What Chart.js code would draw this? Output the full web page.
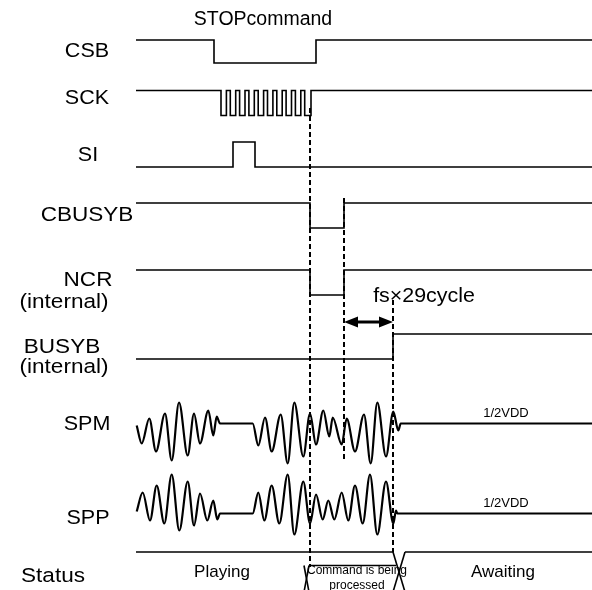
<!DOCTYPE html>
<html>
<head>
<meta charset="utf-8">
<script src="https://cdn.jsdelivr.net/npm/chart.js@4"></script>
<style>
  html, body { margin: 0; padding: 0; background: #fff; }
  #wrap { width: 592px; height: 590px; }
</style>
</head>
<body>
<div id="wrap"><canvas id="timing" width="592" height="590"></canvas></div>
<script>
/* ---------------------------------------------------------------------------
   STOP command timing diagram, drawn as a Chart.js scatter/line chart.
   Time runs along x, each signal lives on its own row along y.
--------------------------------------------------------------------------- */

/* ---- Digital signals: edge times and the level held after each edge ---- */

const csbTimes = [136, 214, 316, 592];
const csbLevels = [1, 0, 1];

const sckTimes = [136, 221, 226.4, 230.3, 235.7, 239.6, 245, 248.9, 254.3, 258.2,
  263.6, 267.5, 272.9, 276.8, 282.2, 286.1, 291.5, 295.4, 300.8, 304.7, 311, 592];
const sckLevels = [1, 0, 1, 0, 1, 0, 1, 0, 1, 0, 1, 0, 1, 0, 1, 0, 1, 0, 1, 0, 1];

const siTimes = [136, 233, 255, 592];
const siLevels = [0, 1, 0];

const cbusybTimes = [136, 310, 344, 592];
const cbusybLevels = [1, 0, 1];

const ncrTimes = [136, 310, 344, 592];
const ncrLevels = [1, 0, 1];

const busybTimes = [136, 393, 592];
const busybLevels = [0, 1];

/* ---- Analog outputs: sample times and amplitude (+ up) ------------------ */

const spmTimes = [136.7, 141.7, 149.3, 156, 165, 171.7, 179, 187.7, 194, 200, 208.3,
  213.3, 216.7, 220, 252.7, 258.3, 265, 271.7, 280.7, 287.7, 294.3, 303.3, 310,
  316, 323.3, 329.3, 332.7, 341.7, 346.7, 355, 364, 370.7, 377.3, 386, 393.3,
  398.3, 400.7, 592];
const spmValues = [-2, -20, 5, -28, 10, -37, 21, -32, 10, -20, 13,
  -12, 7, 0, 0, -22, 6, -28, 9, -40, 21, -33, 10,
  -21, 13, -13, 6, -21, 5, -28, 9, -40, 21, -33, 12,
  -7, 0, 0];

const sppTimes = [136.7, 142.7, 150, 156.7, 164.3, 171.7, 179.3, 187.7, 194, 200,
  207.3, 213.3, 217.3, 220, 252.7, 258.3, 264.3, 271.7, 279.3, 287.7, 294.3,
  303.3, 310, 316, 322.7, 328.3, 334.3, 341.7, 348.3, 355, 362.7, 370, 377.3,
  386, 393.3, 396, 397.3, 592];
const sppValues = [2, 21, -7, 28, -10, 39, -17, 32, -12, 20,
  -7, 13, -6, 0, 0, 21, -7, 28, -10, 39, -21,
  32, -10, 19, -6, 13, -6, 21, -7, 28, -10, 39, -21,
  32, -10, 3, 0, 0];

/* ---- Event markers and status bus -------------------------------------- */

const markerTimes = [310, 344, 393];
const statusTimes = [136, 306.5, 399, 592];
const statusNames = ["Playing", "Command is being\nprocessed", "Awaiting"];
const signalNames = ["CSB", "SCK", "SI", "CBUSYB", "NCR\n(internal)", "BUSYB\n(internal)", "SPM", "SPP", "Status"];

/* ---- Layout (row positions in chart units, y grows downward) ----------- */

const ROW = {
  csb: { low: 63, swing: 23 },
  sck: { low: 115.5, swing: 25 },
  si: { low: 167, swing: 25 },
  cbusyb: { low: 228, swing: 25 },
  ncr: { low: 295, swing: 25 },
  busyb: { low: 359, swing: 25 },
};
const SPM_BASE = 423.5;
const SPP_BASE = 513.5;
const STATUS_TOP = 552;
const STATUS_INNER = 565.5;
const STATUS_BOTTOM = 592;

const MARKER_SPANS = [[108, 567], [198, 462], [300, 552]];

const INK = "#000";
const FONT = '"Liberation Sans", Arial, sans-serif';

/* ---- Helpers ------------------------------------------------------------ */

function digitalPoints(times, levels, row) {
  const pts = levels.map((lv, i) => ({ x: times[i], y: row.low - lv * row.swing }));
  pts.push({ x: times[times.length - 1], y: row.low - levels[levels.length - 1] * row.swing });
  return pts;
}

function analogPoints(times, values, base) {
  return times.map((t, i) => ({ x: t, y: base - values[i] }));
}

function stepSet(points) {
  return {
    data: points,
    showLine: true,
    stepped: "before",
    borderColor: INK,
    borderWidth: 1.6,
    pointRadius: 0,
  };
}

function waveSet(points) {
  return {
    data: points,
    showLine: true,
    cubicInterpolationMode: "monotone",
    borderColor: INK,
    borderWidth: 2.2,
    pointRadius: 0,
  };
}

function segment(x1, y1, x2, y2, extra) {
  return Object.assign({
    data: [{ x: x1, y: y1 }, { x: x2, y: y2 }],
    showLine: true,
    borderColor: INK,
    borderWidth: 1.6,
    pointRadius: 0,
  }, extra || {});
}

/* ---- Datasets ----------------------------------------------------------- */

const datasets = [
  stepSet(digitalPoints(csbTimes, csbLevels, ROW.csb)),
  stepSet(digitalPoints(sckTimes, sckLevels, ROW.sck)),
  stepSet(digitalPoints(siTimes, siLevels, ROW.si)),
  stepSet(digitalPoints(cbusybTimes, cbusybLevels, ROW.cbusyb)),
  stepSet(digitalPoints(ncrTimes, ncrLevels, ROW.ncr)),
  stepSet(digitalPoints(busybTimes, busybLevels, ROW.busyb)),
  waveSet(analogPoints(spmTimes, spmValues, SPM_BASE)),
  waveSet(analogPoints(sppTimes, sppValues, SPP_BASE)),
];

// dashed event markers
markerTimes.forEach((t, i) => {
  datasets.push(segment(t, MARKER_SPANS[i][0], t, MARKER_SPANS[i][1], {
    borderDash: [5, 3],
    borderWidth: 2,
  }));
});

// status bus: outer line with a full crossing at the end of processing,
// inner box line with a half-height crossing at the start
const s1 = statusTimes[1];
const s2 = statusTimes[2];
datasets.push(segment(statusTimes[0], STATUS_TOP, s2 - 6, STATUS_TOP));
datasets.push(segment(s2 + 6, STATUS_TOP, statusTimes[3], STATUS_TOP));
datasets.push(segment(s2 - 6, STATUS_TOP, s2 + 6, STATUS_BOTTOM));
datasets.push(segment(s2 + 6, STATUS_TOP, s2 - 6, STATUS_BOTTOM));
datasets.push(segment(s1 + 2.5, STATUS_INNER, s2 - 3, STATUS_INNER));
datasets.push(segment(s1 - 2.5, STATUS_INNER, s1 + 2.5, STATUS_BOTTOM));
datasets.push(segment(s1 + 2.5, STATUS_INNER, s1 - 2.5, STATUS_BOTTOM));

/* ---- Text and arrow overlay -------------------------------------------- */

const annotations = [
  { text: "STOPcommand", x: 263, y: 20, size: 19.5 },
  { text: signalNames[0], x: 87, y: 51, size: 20.5, sx: 1.05 },
  { text: signalNames[1], x: 87, y: 98, size: 20.5, sx: 1.05 },
  { text: signalNames[2], x: 88, y: 155, size: 20.5, sx: 1.05 },
  { text: signalNames[3], x: 87, y: 215, size: 20.5, sx: 1.1 },
  { text: signalNames[4], x: [88, 64], y: [280, 302], size: 20.5, sx: 1.1 },
  { text: signalNames[5], x: [62, 64], y: [347, 367], size: 20.5, sx: 1.1 },
  { text: signalNames[6], x: 87, y: 424, size: 20.5, sx: 1.05 },
  { text: signalNames[7], x: 88, y: 518, size: 20.5, sx: 1.05 },
  { text: signalNames[8], x: 53, y: 576, size: 20.5, sx: 1.1 },
  { text: "fs×29cycle", x: 424, y: 296, size: 20, sx: 1.07 },
  { text: "1/2VDD", x: 506, y: 413, size: 13 },
  { text: "1/2VDD", x: 506, y: 503, size: 13 },
  { text: statusNames[0], x: 222, y: 572, size: 17 },
  { text: statusNames[1], x: [357, 357], y: [571, 586], size: 12 },
  { text: statusNames[2], x: 503, y: 572, size: 17 },
];

const ARROW = { from: markerTimes[1], to: markerTimes[2], y: 322 };

const overlayPlugin = {
  id: "overlay",
  afterDatasetsDraw(chart) {
    const { ctx, scales } = chart;
    const px = (v) => scales.x.getPixelForValue(v);
    const py = (v) => scales.y.getPixelForValue(v);

    ctx.save();
    ctx.fillStyle = INK;
    ctx.textAlign = "center";
    ctx.textBaseline = "middle";
    annotations.forEach((a) => {
      ctx.font = `${a.size}px ${FONT}`;
      const lines = a.text.split("\n");
      lines.forEach((line, i) => {
        const x = Array.isArray(a.x) ? a.x[i] : a.x;
        const y = Array.isArray(a.y) ? a.y[i] : a.y;
        ctx.save();
        ctx.translate(px(x), py(y));
        ctx.scale(a.sx || 1, 1);
        ctx.fillText(line, 0, 0);
        ctx.restore();
      });
    });

    // double-headed arrow between the two markers
    const x1 = px(ARROW.from);
    const x2 = px(ARROW.to);
    const y = py(ARROW.y);
    const head = 14;
    const half = 5.5;
    ctx.strokeStyle = INK;
    ctx.lineWidth = 3;
    ctx.beginPath();
    ctx.moveTo(x1 + head - 2, y);
    ctx.lineTo(x2 - head + 2, y);
    ctx.stroke();
    ctx.beginPath();
    ctx.moveTo(x1, y);
    ctx.lineTo(x1 + head, y - half);
    ctx.lineTo(x1 + head, y + half);
    ctx.closePath();
    ctx.moveTo(x2, y);
    ctx.lineTo(x2 - head, y - half);
    ctx.lineTo(x2 - head, y + half);
    ctx.closePath();
    ctx.fill();
    ctx.restore();
  },
};

/* ---- Chart -------------------------------------------------------------- */

new Chart(document.getElementById("timing").getContext("2d"), {
  type: "scatter",
  data: { datasets },
  options: {
    responsive: false,
    animation: false,
    layout: { padding: 0 },
    plugins: {
      legend: { display: false },
      tooltip: { enabled: false },
    },
    scales: {
      x: { type: "linear", min: 0, max: 592, display: false },
      y: { type: "linear", min: 0, max: 590, reverse: true, display: false },
    },
  },
  plugins: [overlayPlugin],
});
</script>
</body>
</html>
